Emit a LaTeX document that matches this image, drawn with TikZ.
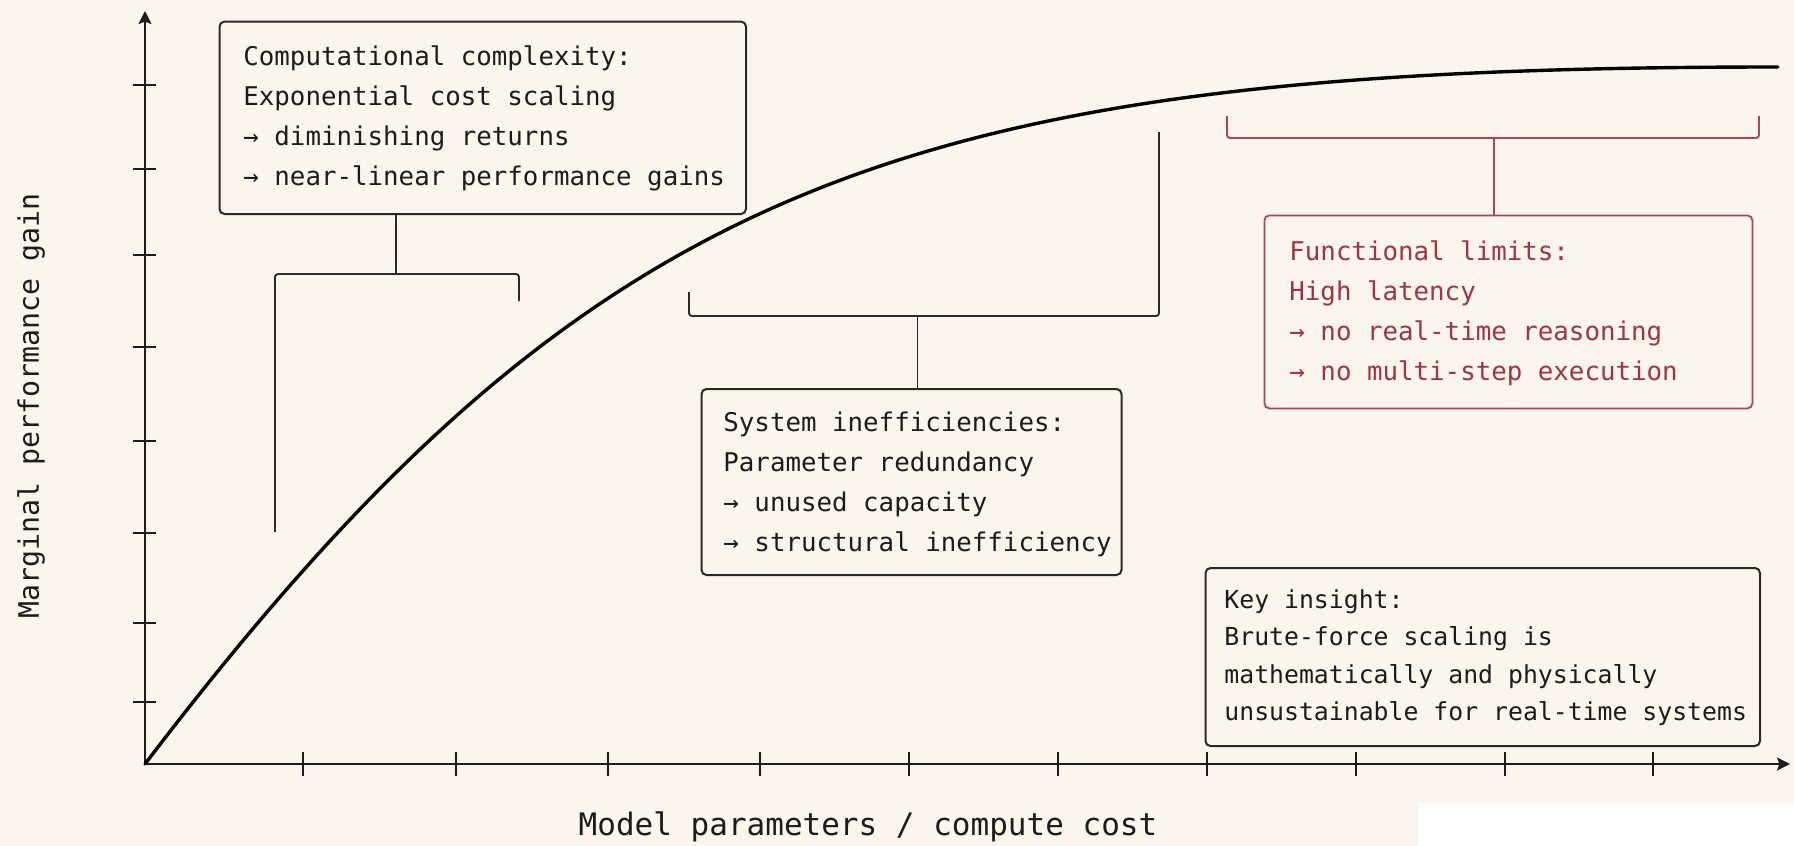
\documentclass[tikz,border=0pt]{standalone}
\usepackage{fontspec}
\newfontfamily\plex{DejaVu Sans Mono}
\usetikzlibrary{arrows.meta}
\definecolor{bg}{HTML}{FAF6EC}
\definecolor{ink}{HTML}{1C1C1C}
\definecolor{frame}{HTML}{2A2A2A}
\definecolor{crim}{HTML}{A23342}
\begin{document}
\begin{tikzpicture}[x=0.5pt,y=-0.5pt,
  box/.style={draw=frame, line width=1pt, rounded corners=2.5pt, rectangle, anchor=north west, inner sep=0pt},
  redbox/.style={box, draw=crim!90, line width=0.9pt},
  txt/.style={font=\plex\fontsize{12.9pt}{20pt}\selectfont, text=ink, align=left, inner sep=0pt, anchor=west},
  redtxt/.style={txt, text=crim},
  keytxt/.style={txt, font=\plex\fontsize{12.4pt}{18.75pt}\selectfont},
  axis/.style={draw=ink, line width=1.2pt},
  tick/.style={draw=ink, line width=0.75pt},
  curve/.style={draw=black, line width=1.7pt, line cap=round},
  brack/.style={draw=frame, line width=0.95pt, rounded corners=1.5pt},
  redbrack/.style={brack, draw=crim!90},
  axlabel/.style={font=\plex\fontsize{15.5pt}{18pt}\selectfont, text=ink, inner sep=0pt}
]
\fill[bg] (0,0) rectangle (1794,846);
\fill[white] (1418,802) rectangle (1794,846);
\useasboundingbox (0,0) rectangle (1794,846);

% axes
\coordinate (O) at (145,764);
\coordinate (YT) at (145,11);
\coordinate (XT) at (1790,764);
\draw[axis, -{Stealth[length=6.5pt,width=6.5pt,inset=1.2pt]}] (O) -- (YT);
\draw[axis, -{Stealth[length=6.5pt,width=6.5pt,inset=1.2pt]}] (O) -- (XT);
\foreach \yy in {85,169,255,347,441,533,623,702} \draw[tick] (133,\yy) -- (156,\yy);
\foreach \xx in {303,456,608,760,909,1058,1207,1356,1505,1653} \draw[tick] (\xx,752) -- (\xx,776);

\node[axlabel] (xl) at (868,826.5) {Model parameters / compute cost};
\node[axlabel, font=\plex\fontsize{14.1pt}{17pt}\selectfont, rotate=90] (yl) at (31,406) {Marginal performance gain};

% curve
\coordinate (CE) at (1778,67);
\draw[curve] (O) .. controls (590,180) and (900,67) .. (CE);

% box 1
\node[box, minimum width=263.25pt, minimum height=96.2pt] (b1) at (218.5,20.6) {};
\node[txt] (t1) at (243,118) {Computational complexity:\\Exponential cost scaling\\→ diminishing returns\\→ near-linear performance gains};
\coordinate (k1) at (396,274);
\draw[brack] (275,532) -- (275,274) -- (519,274) -- (519,301);
\draw[brack] (k1 |- b1.south) -- (k1);

% box 2
\node[box, minimum width=210pt, minimum height=93pt] (b2) at (700.5,388) {};
\node[txt] (t2) at (723,484) {System inefficiencies:\\Parameter redundancy\\→ unused capacity\\→ structural inefficiency};
\coordinate (k2) at (917.5,316);
\draw[brack] (689,292) -- (689,316) -- (1159,316) -- (1159,132);
\draw[brack] (k2) -- (k2 |- b2.north);

% red box
\node[redbox, minimum width=244pt, minimum height=96.5pt] (b3) at (1263.5,214.5) {};
\node[redtxt] (t3) at (1289,313) {Functional limits:\\High latency\\→ no real-time reasoning\\→ no multi-step execution};
\coordinate (k3) at (1494,138);
\draw[redbrack] (1227,116) -- (1227,138) -- (1759,138) -- (1759,116);
\draw[redbrack] (k3) -- (k3 |- b3.north);

% key insight
\node[box, minimum width=277.25pt, minimum height=89pt] (b4) at (1204.5,567) {};
\node[keytxt] (t4) at (1224,657.5) {Key insight:\\Brute-force scaling is\\mathematically and physically\\unsustainable for real-time systems};
\end{tikzpicture}
\end{document}
